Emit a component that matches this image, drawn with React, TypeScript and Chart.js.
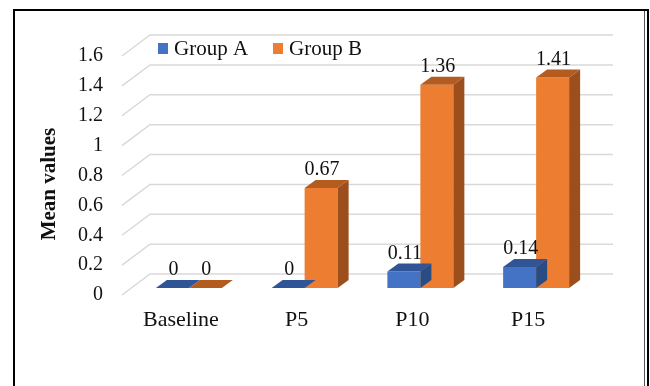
import React, { useEffect, useRef } from 'react';
import { Chart, registerables } from 'chart.js';

Chart.register(...registerables);

const categories = ['Baseline', 'P5', 'P10', 'P15'];
const seriesNames = ['Group A', 'Group B'];
const groupA = [0, 0, 0.11, 0.14];
const groupB = [0, 0.67, 1.36, 1.41];
const yMin = 0;
const yMax = 1.6;
const yStep = 0.2;
const yTitle = 'Mean values';

const FONT = '"Liberation Serif", "Times New Roman", serif';
const TEXT = '#111111';
const FRONT = ['#4472C4', '#ED7D31'];
const TOP = ['#2F5597', '#B45C20'];
const SIDE = ['#2A4C85', '#9C4F1C'];
const GRID = '#D9D9D9';

// 3D geometry (pixels)
const BAR_DX = 11;
const BAR_DY = -8;
const WALL_FRONT_DX = -9;
const WALL_FRONT_DY = 7;
const WALL_BACK_DX = 19;
const WALL_BACK_DY = -14;

const threeD = {
  id: 'threeD',
  beforeDatasetsDraw(chart: any) {
    const { ctx, chartArea, scales } = chart;
    const ys = scales.y;
    ctx.save();
    ctx.strokeStyle = GRID;
    ctx.lineWidth = 1.5;
    for (let v = yMin; v <= yMax + 1e-9; v += yStep) {
      const y = ys.getPixelForValue(v);
      ctx.beginPath();
      ctx.moveTo(chartArea.left + WALL_FRONT_DX, y + WALL_FRONT_DY);
      ctx.lineTo(chartArea.left + WALL_BACK_DX, y + WALL_BACK_DY);
      ctx.lineTo(chartArea.right + WALL_BACK_DX, y + WALL_BACK_DY);
      ctx.stroke();
    }
    ctx.restore();
  },
  afterDatasetDraw(chart: any, args: any) {
    const { ctx } = chart;
    const di = args.index;
    const meta = args.meta;
    ctx.save();
    meta.data.forEach((el: any) => {
      const p = el.getProps(['x', 'y', 'base', 'width'], true);
      const l = p.x - p.width / 2;
      const r = p.x + p.width / 2;
      const t = Math.min(p.y, p.base);
      const b = Math.max(p.y, p.base);
      // top face
      ctx.fillStyle = TOP[di];
      ctx.beginPath();
      ctx.moveTo(l, t);
      ctx.lineTo(l + BAR_DX, t + BAR_DY);
      ctx.lineTo(r + BAR_DX, t + BAR_DY);
      ctx.lineTo(r, t);
      ctx.closePath();
      ctx.fill();
      // side face
      if (b - t > 0.5) {
        ctx.fillStyle = SIDE[di];
        ctx.beginPath();
        ctx.moveTo(r, t);
        ctx.lineTo(r + BAR_DX, t + BAR_DY);
        ctx.lineTo(r + BAR_DX, b + BAR_DY);
        ctx.lineTo(r, b);
        ctx.closePath();
        ctx.fill();
      }
    });
    ctx.restore();
  },
  afterDraw(chart: any) {
    const { ctx } = chart;
    ctx.save();
    // data labels
    ctx.fillStyle = TEXT;
    ctx.font = `20px ${FONT}`;
    ctx.textAlign = 'center';
    ctx.textBaseline = 'middle';
    chart.data.datasets.forEach((ds: any, di: number) => {
      const meta = chart.getDatasetMeta(di);
      meta.data.forEach((el: any, i: number) => {
        const p = el.getProps(['x', 'y'], true);
        ctx.fillText(String(ds.data[i]), p.x + 1, p.y - 18);
      });
    });
    // legend
    const legendX = [158, 273];
    ctx.font = `21px ${FONT}`;
    chart.data.datasets.forEach((ds: any, di: number) => {
      const x = legendX[di];
      ctx.fillStyle = FRONT[di];
      ctx.fillRect(x, 43, 10, 11);
      ctx.fillStyle = TEXT;
      ctx.textAlign = 'left';
      ctx.textBaseline = 'middle';
      ctx.fillText(ds.label, x + 16, 49);
    });
    // y title
    ctx.save();
    ctx.translate(50, 184);
    ctx.rotate(-Math.PI / 2);
    ctx.font = `bold 21px ${FONT}`;
    ctx.textAlign = 'center';
    ctx.textBaseline = 'middle';
    ctx.fillStyle = TEXT;
    ctx.fillText(yTitle, 0, 0);
    ctx.restore();
    // frame
    ctx.strokeStyle = '#000';
    ctx.lineWidth = 2;
    ctx.beginPath();
    ctx.moveTo(14, 386);
    ctx.lineTo(14, 10);
    ctx.lineTo(648, 10);
    ctx.lineTo(648, 386);
    ctx.stroke();
    ctx.strokeStyle = '#555';
    ctx.lineWidth = 1;
    ctx.beginPath();
    ctx.moveTo(644.5, 11);
    ctx.lineTo(644.5, 386);
    ctx.stroke();
    ctx.restore();
  },
};

export default function App() {
  const ref = useRef<HTMLCanvasElement | null>(null);
  useEffect(() => {
    if (!ref.current) return;
    Chart.defaults.font.family = FONT;
    const chart = new Chart(ref.current, {
      type: 'bar',
      data: {
        labels: categories,
        datasets: [
          { label: seriesNames[0], data: groupA, backgroundColor: FRONT[0], borderWidth: 0 },
          { label: seriesNames[1], data: groupB, backgroundColor: FRONT[1], borderWidth: 0 },
        ],
      },
      options: {
        responsive: false,
        animation: false,
        devicePixelRatio: 1,
        layout: { padding: { left: 0, top: 49, right: 56, bottom: 0 } },
        datasets: { bar: { categoryPercentage: 0.57, barPercentage: 1 } },
        plugins: { legend: { display: false }, tooltip: { enabled: false }, title: { display: false } },
        scales: {
          x: {
            grid: { display: false, drawTicks: false },
            border: { display: false },
            ticks: { color: TEXT, font: { size: 22, family: FONT }, padding: 19, labelOffset: -8 },
            afterFit: (s: any) => { s.height = 98; },
          },
          y: {
            min: yMin,
            max: yMax,
            grid: { display: false, drawTicks: false },
            border: { display: false },
            ticks: {
              stepSize: yStep,
              color: TEXT,
              font: { size: 20, family: FONT },
              padding: 28,
              labelOffset: 7,
              callback: (v: any) => String(Math.round(Number(v) * 10) / 10),
            },
            afterFit: (s: any) => { s.width = 131; },
          },
        },
      },
      plugins: [threeD],
    });
    return () => chart.destroy();
  }, []);
  return (
    <div style={{ position: 'fixed', left: 0, top: 0, width: 650, height: 386, background: '#fff' }}>
      <canvas ref={ref} width={650} height={386} style={{ display: 'block' }} />
    </div>
  );
}
